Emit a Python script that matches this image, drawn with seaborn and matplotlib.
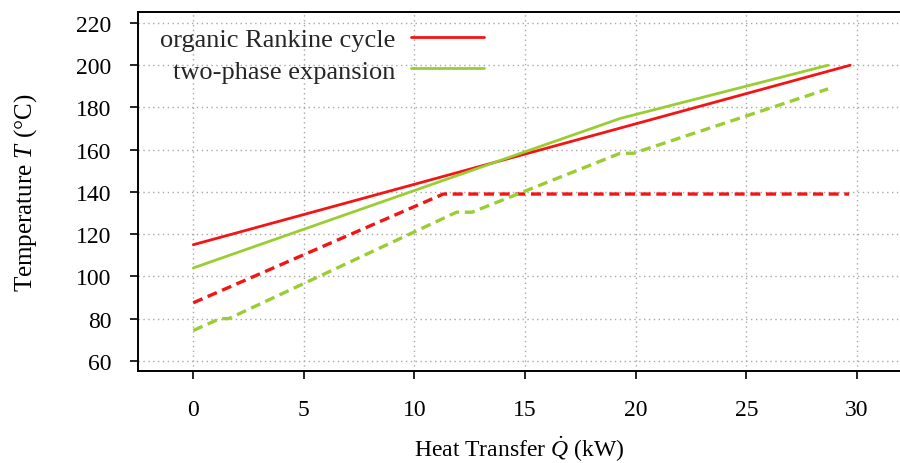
import matplotlib
matplotlib.use("Agg")
import matplotlib.pyplot as plt
import seaborn as sns

# ---- data ----
orc_hot_q = [0.0, 29.7]
orc_hot_t = [115.0, 200.0]
orc_cold_q = [0.0, 11.3, 29.65]
orc_cold_t = [87.5, 139.0, 139.0]
tpe_hot_q = [0.0, 19.3, 28.7]
tpe_hot_t = [104.0, 174.8, 200.0]
tpe_cold_q = [0.0, 1.2, 1.6, 11.9, 12.6, 19.3, 19.9, 28.7]
tpe_cold_t = [74.4, 80.0, 80.0, 130.4, 130.4, 158.3, 158.3, 188.8]

legend_labels = ["organic Rankine cycle", "two-phase expansion"]
x_ticks = [0, 5, 10, 15, 20, 25, 30]
y_ticks = [60, 80, 100, 120, 140, 160, 180, 200, 220]

RED = "#f41414"
GREEN = "#9acd32"

sns.set_theme(style="white")
plt.rcParams["font.family"] = ["Liberation Serif", "DejaVu Serif"]
plt.rcParams["mathtext.fontset"] = "custom"
plt.rcParams["mathtext.rm"] = "Liberation Serif"
plt.rcParams["mathtext.it"] = "Liberation Serif:italic"
plt.rcParams["mathtext.bf"] = "Liberation Serif:bold"

fig = plt.figure(figsize=(9, 4.64), dpi=100)
ax = fig.add_axes([138 / 900, 1 - 372 / 464, 1 - 138 / 900, (372 - 13) / 464])

sns.lineplot(x=orc_hot_q, y=orc_hot_t, ax=ax, color=RED, lw=2, sort=False,
             label=legend_labels[0])
sns.lineplot(x=tpe_hot_q, y=tpe_hot_t, ax=ax, color=GREEN, lw=2, sort=False,
             label=legend_labels[1])
sns.lineplot(x=orc_cold_q, y=orc_cold_t, ax=ax, color=RED, lw=2.4, sort=False)
sns.lineplot(x=tpe_cold_q, y=tpe_cold_t, ax=ax, color=GREEN, lw=2.4, sort=False)
lines = ax.get_lines()
lines[2].set_dashes([3.0, 1.7])
lines[3].set_dashes([3.0, 1.7])

ax.set_xlim(-2.5, 31.95)
ax.set_ylim(55.2, 225.2)
ax.set_xticks(x_ticks)
ax.set_yticks(y_ticks)
ax.grid(True, color="#a8a8a8", linestyle=(0, (1, 2.5)), linewidth=1)
ax.set_axisbelow(True)

for s in ["left", "bottom", "top"]:
    ax.spines[s].set_visible(True)
    ax.spines[s].set_color("black")
    ax.spines[s].set_linewidth(1.4)
ax.spines["right"].set_visible(False)

ax.tick_params(axis="both", which="major", direction="out", length=6, width=1.2,
               color="black", labelsize=17, labelcolor="black")
ax.tick_params(axis="y", pad=13, left=True, right=False)
ax.tick_params(axis="x", pad=14, bottom=True, top=False)

ax.set_xlabel(r"Heat Transfer $\dot{Q}$ (kW)", fontsize=17, labelpad=10, color="black")
ax.set_ylabel(r"Temperature $T$ (°C)", fontsize=18, labelpad=27, color="black")

handles = lines[:2]
ax.legend(handles, legend_labels, loc="upper left", frameon=False,
          markerfirst=False, fontsize=19, handlelength=2.75,
          handletextpad=0.6, labelspacing=0.3,
          bbox_to_anchor=(0.008, 1.0), borderaxespad=0.2)

fig.savefig("out.png", dpi=100)
